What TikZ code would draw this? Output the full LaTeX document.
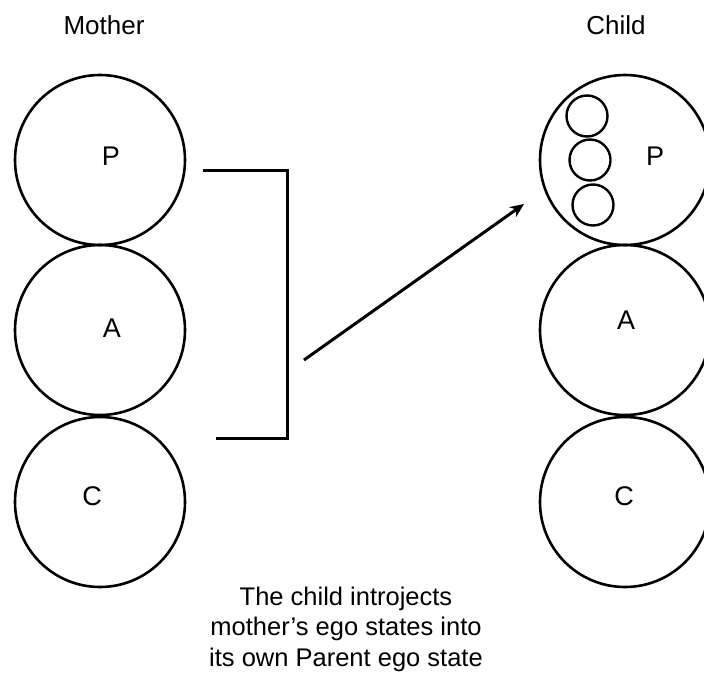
\documentclass[tikz,border=0pt]{standalone}
\usepackage{fontspec}
\setmainfont{Liberation Sans}
\usetikzlibrary{arrows.meta}
\begin{document}
\begin{tikzpicture}[x=1pt,y=-1pt,
  ego/.style={draw=black,line width=2.6pt,circle,minimum size=170pt,inner sep=0pt},
  sub/.style={draw=black,line width=2.4pt,circle,minimum size=41pt,inner sep=0pt},
  ttl/.style={font=\fontsize{26}{28}\selectfont,inner sep=0pt},
  lbl/.style={font=\fontsize{27}{29}\selectfont,inner sep=0pt},
  conn/.style={line width=3pt}]
\useasboundingbox (0,0) rectangle (704,677);
% Mother
\node[ttl] (mt) at (104,25) {Mother};
\node[ego] (mp) at (100,160) {};
\node[ego] (ma) at (100,330) {};
\node[ego] (mc) at (100,502) {};
\node[lbl] (mpl) at (111,156) {P};
\node[lbl] (mal) at (112,328) {A};
\node[lbl] (mcl) at (92,496) {C};
% Child
\node[ttl] (ct) at (616,25) {Child};
\node[ego] (cp) at (625,160) {};
\node[ego] (ca) at (625,330) {};
\node[ego] (cc) at (625,502) {};
\node[sub] (s1) at (587,116) {};
\node[sub] (s2) at (590,160) {};
\node[sub] (s3) at (593,205) {};
\node[lbl] (cpl) at (655,156) {P};
\node[lbl] (cal) at (626,320) {A};
\node[lbl] (ccl) at (624,496) {C};
% bracket
\coordinate (b1) at (203,170);
\coordinate (b2) at (287,170);
\coordinate (b3) at (287,438);
\coordinate (b4) at (216,438);
\draw[conn,line join=miter] (b1) -- (b2) -- (b3) -- (b4);
% arrow
\coordinate (a1) at (304,360);
\coordinate (a2) at (524,204);
\draw[conn,-{Stealth[length=14pt,width=12pt]}] (a1) -- (a2);
% caption
\node[font=\fontsize{25.5}{30.5}\selectfont,align=center,inner sep=0pt] (cap) at (346,629)
  {The child introjects\\mother’s ego states into\\its own Parent ego state};
\end{tikzpicture}
\end{document}
